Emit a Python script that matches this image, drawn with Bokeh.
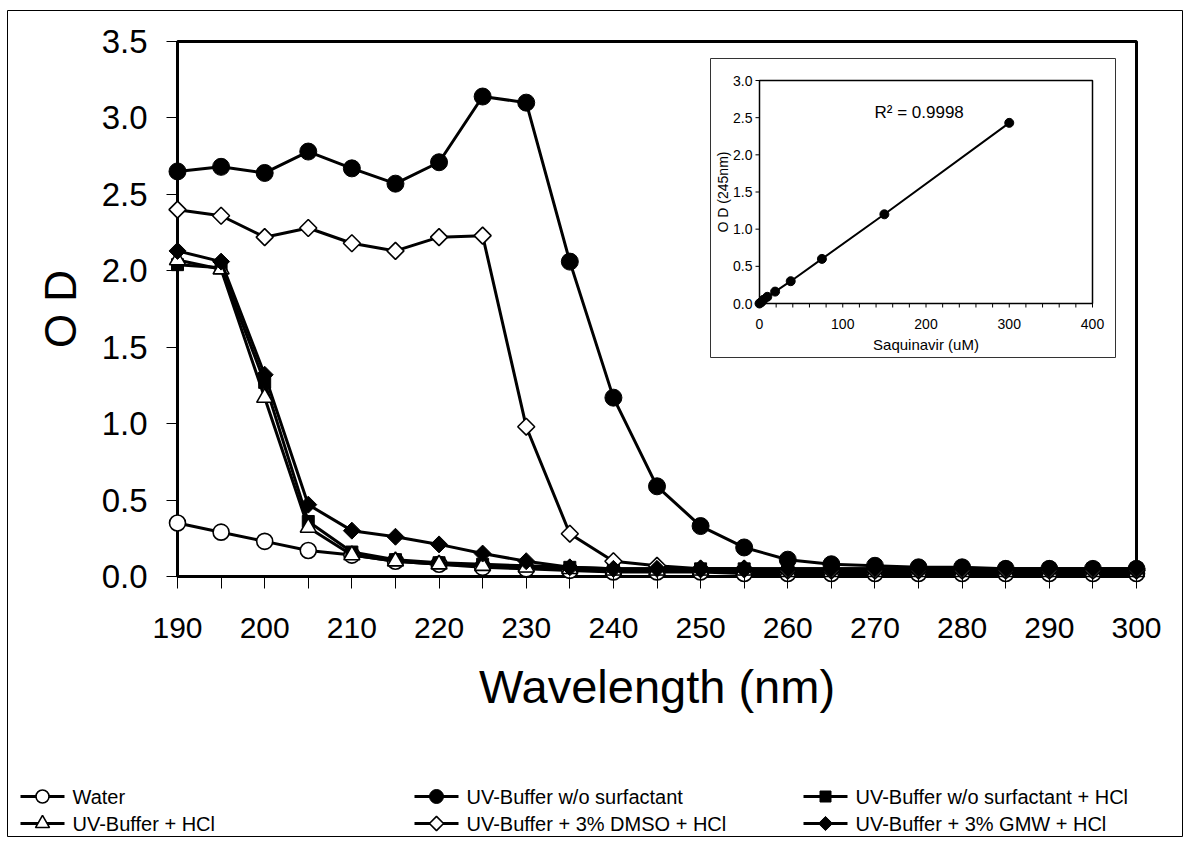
import math
from bokeh.plotting import figure
from bokeh.models import Range1d, FixedTicker, PrintfTickFormatter
from bokeh.core.properties import value
from bokeh.embed import file_html
from bokeh.resources import INLINE

# ---------------- data ----------------
wavelength = [190, 195, 200, 205, 210, 215, 220, 225, 230, 235, 240, 245,
              250, 255, 260, 265, 270, 275, 280, 285, 290, 295, 300]

od_water = [0.35, 0.29, 0.23, 0.17, 0.14, 0.10, 0.08, 0.06, 0.05, 0.04, 0.03, 0.03,
            0.03, 0.02, 0.02, 0.02, 0.02, 0.02, 0.02, 0.02, 0.02, 0.02, 0.02]
od_buffer_nosurf = [2.65, 2.68, 2.64, 2.78, 2.67, 2.57, 2.71, 3.14, 3.10, 2.06, 1.17, 0.59,
                    0.33, 0.19, 0.11, 0.08, 0.07, 0.06, 0.06, 0.05, 0.05, 0.05, 0.05]
od_buffer_nosurf_hcl = [2.04, 2.02, 1.27, 0.36, 0.16, 0.11, 0.09, 0.08, 0.07, 0.06, 0.05, 0.05,
                        0.05, 0.05, 0.05, 0.05, 0.05, 0.05, 0.05, 0.05, 0.05, 0.05, 0.05]
od_buffer_hcl = [2.07, 2.01, 1.17, 0.32, 0.14, 0.10, 0.08, 0.07, 0.06, 0.05, 0.04, 0.04,
                 0.04, 0.04, 0.03, 0.03, 0.03, 0.03, 0.03, 0.03, 0.03, 0.03, 0.03]
od_buffer_dmso_hcl = [2.40, 2.36, 2.22, 2.28, 2.18, 2.13, 2.22, 2.23, 0.98, 0.28, 0.10, 0.07,
                      0.05, 0.05, 0.04, 0.04, 0.04, 0.04, 0.04, 0.04, 0.04, 0.04, 0.04]
od_buffer_gmw_hcl = [2.13, 2.06, 1.32, 0.47, 0.30, 0.26, 0.21, 0.15, 0.10, 0.06, 0.05, 0.05,
                     0.05, 0.05, 0.05, 0.05, 0.05, 0.05, 0.05, 0.05, 0.05, 0.05, 0.05]

series_names = ["Water", "UV-Buffer w/o surfactant", "UV-Buffer w/o surfactant + HCl",
                "UV-Buffer + HCl", "UV-Buffer + 3% DMSO + HCl", "UV-Buffer + 3% GMW + HCl"]

x_major_ticks = [190, 200, 210, 220, 230, 240, 250, 260, 270, 280, 290, 300]
x_minor_ticks = [195, 205, 215, 225, 235, 245, 255, 265, 275, 285, 295]
y_ticks = [0.0, 0.5, 1.0, 1.5, 2.0, 2.5, 3.0, 3.5]
x_title = "Wavelength (nm)"
y_title = "O D"

inset_conc = [0.0, 2.34, 4.69, 9.38, 18.75, 37.5, 75.0, 150.0, 300.0]
inset_od = [0.0, 0.02, 0.05, 0.09, 0.16, 0.30, 0.60, 1.20, 2.43]
inset_x_ticks = [0, 100, 200, 300, 400]
inset_x_minor = [0, 20, 40, 60, 80, 100, 120, 140, 160, 180, 200, 220, 240, 260, 280,
                 300, 320, 340, 360, 380, 400]
inset_y_ticks = [0.0, 0.5, 1.0, 1.5, 2.0, 2.5, 3.0]
inset_r2 = "R\u00b2 = 0.9998"
inset_xlabel = "Saquinavir (uM)"
inset_ylabel = "O D (245nm)"

FONT = "Liberation Sans"

# ---------------- layout (canvas pixels) ----------------
W, H = 1184, 838
BOX_L, BOX_R, BOX_T, BOX_B = 177, 1136, 41, 576

X0, X1 = x_major_ticks[0], x_major_ticks[-1]
Y0, Y1 = y_ticks[0], y_ticks[-1]
xs = (BOX_R - BOX_L) / (X1 - X0)
ys = (BOX_B - BOX_T) / (Y1 - Y0)

p = figure(width=W, height=H, output_backend="svg", toolbar_location=None,
           x_range=Range1d(X0 - BOX_L / xs, X1 + (W - BOX_R) / xs),
           y_range=Range1d(Y0 - (H - BOX_B) / ys, Y1 + BOX_T / ys),
           min_border_left=0, min_border_right=0, min_border_top=0, min_border_bottom=0)
p.outline_line_color = None
p.grid.visible = False
p.background_fill_color = "white"
p.border_fill_color = "white"

# pixel ranges for decorations (legend, border, titles)
p.extra_x_ranges = {"px": Range1d(0, W)}
p.extra_y_ranges = {"py": Range1d(H, 0)}
pk = dict(x_range_name="px", y_range_name="py")

xa = p.xaxis[0]
xa.fixed_location = Y0
xa.ticker = FixedTicker(ticks=x_major_ticks, minor_ticks=x_minor_ticks)
xa.axis_line_color = None
xa.major_tick_in = 0
xa.major_tick_out = 12
xa.minor_tick_in = 0
xa.minor_tick_out = 12
xa.major_tick_line_color = "black"
xa.minor_tick_line_color = "black"
xa.major_label_text_font = FONT
xa.major_label_text_font_size = "30px"
xa.major_label_text_color = "black"
xa.major_label_standoff = 29

ya = p.yaxis[0]
ya.fixed_location = X0
ya.ticker = FixedTicker(ticks=y_ticks, minor_ticks=[])
ya.formatter = PrintfTickFormatter(format="%.1f")
ya.axis_line_color = None
ya.major_tick_in = 0
ya.major_tick_out = 11
ya.minor_tick_in = 0
ya.minor_tick_out = 0
ya.major_tick_line_color = "black"
ya.major_label_text_font = FONT
ya.major_label_text_font_size = "33px"
ya.major_label_text_color = "black"
ya.major_label_standoff = 19

# axis titles
p.text(x=[(BOX_L + BOX_R) / 2], y=[686], text=[x_title], text_align="center",
       text_baseline="middle", text_font=value(FONT), text_font_size=value("47px"),
       text_color="black", **pk)
p.text(x=[60], y=[(BOX_T + BOX_B) / 2], text=[y_title], angle=math.pi / 2,
       text_align="center", text_baseline="middle", text_font=value(FONT),
       text_font_size=value("44px"), text_color="black", **pk)

# outer border of the whole chart
p.quad(left=[7], right=[1182], top=[10], bottom=[836], fill_color=None,
       line_color="black", line_width=1, **pk)

# plot-area box (axes lines + frame)
p.quad(left=[X0], right=[X1], bottom=[Y0], top=[Y1], fill_color=None,
       line_color="black", line_width=3)

series = [
    (od_water, "circle", 16, "white", 0.0, 1.6),
    (od_buffer_nosurf, "circle", 17, "black", 0.0, 1.0),
    (od_buffer_nosurf_hcl, "square", 12, "black", 0.0, 1.0),
    (od_buffer_hcl, "triangle", 16, "white", 0.0, 1.6),
    (od_buffer_dmso_hcl, "square", 12, "white", math.pi / 4, 1.6),
    (od_buffer_gmw_hcl, "square", 12, "black", math.pi / 4, 1.0),
]
for vals, mk, sz, fill, ang, lw in series:
    p.line(wavelength, vals, line_color="black", line_width=3)
    p.scatter(wavelength, vals, marker=mk, size=sz, fill_color=fill,
              line_color="black", line_width=lw, angle=ang)

# ---------------- inset ----------------
INS_L, INS_R, INS_T, INS_B = 759, 1092, 80, 303
IX0, IX1 = inset_x_ticks[0], inset_x_ticks[-1]
IY0, IY1 = inset_y_ticks[0], inset_y_ticks[-1]
isx = (INS_R - INS_L) / (IX1 - IX0)
isy = (INS_B - INS_T) / (IY1 - IY0)
p.extra_x_ranges["ix"] = Range1d(IX0 - INS_L / isx, IX1 + (W - INS_R) / isx)
p.extra_y_ranges["iy"] = Range1d(IY0 - (H - INS_B) / isy, IY1 + INS_T / isy)
kw = dict(x_range_name="ix", y_range_name="iy")


def ixd(px):
    return IX0 + (px - INS_L) / isx


def iyd(px):
    return IY0 + (INS_B - px) / isy


CA_L, CA_R, CA_T, CA_B = 710, 1115, 58, 357
p.quad(left=[ixd(CA_L)], right=[ixd(CA_R)], top=[iyd(CA_T)], bottom=[iyd(CA_B)],
       fill_color="white", line_color="#333333", line_width=1, **kw)
p.quad(left=[IX0], right=[IX1], bottom=[IY0], top=[IY1], fill_color="white",
       line_color="black", line_width=1.5, **kw)

ny = len(inset_y_ticks)
p.segment(x0=[ixd(INS_L - 4)] * ny, x1=[IX0] * ny, y0=inset_y_ticks, y1=inset_y_ticks,
          line_color="black", line_width=1, **kw)
p.text(x=[ixd(INS_L - 7)] * ny, y=inset_y_ticks, text=["%.1f" % v for v in inset_y_ticks],
       text_align="right", text_baseline="middle", text_font=value(FONT),
       text_font_size=value("14px"), text_color="black", **kw)

nx = len(inset_x_minor)
p.segment(x0=inset_x_minor, x1=inset_x_minor, y0=[iyd(INS_B + 4)] * nx, y1=[IY0] * nx,
          line_color="black", line_width=1, **kw)
p.text(x=inset_x_ticks, y=[iyd(INS_B + 20)] * len(inset_x_ticks),
       text=[str(v) for v in inset_x_ticks], text_align="center", text_baseline="middle",
       text_font=value(FONT), text_font_size=value("14px"), text_color="black", **kw)
p.text(x=[(IX0 + IX1) / 2], y=[iyd(INS_B + 41)], text=[inset_xlabel], text_align="center",
       text_baseline="middle", text_font=value(FONT), text_font_size=value("15px"),
       text_color="black", **kw)
p.text(x=[ixd(722)], y=[(IY0 + IY1) / 2], text=[inset_ylabel], angle=math.pi / 2,
       text_align="center", text_baseline="middle", text_font=value(FONT),
       text_font_size=value("14px"), text_color="black", **kw)

p.line(inset_conc, inset_od, line_color="black", line_width=2, **kw)
p.scatter(inset_conc, inset_od, marker="circle", size=9, fill_color="black",
          line_color="black", **kw)
p.text(x=[ixd(874)], y=[iyd(112)], text=[inset_r2], text_baseline="middle",
       text_font=value(FONT), text_font_size=value("17px"), text_color="black", **kw)

# ---------------- legend (drawn in canvas pixels) ----------------
COL_X = [20, 414, 803]
ROW_Y = [796, 823]
GLYPH_W = 44
lx = [COL_X[i % 3] for i in range(len(series_names))]
ly = [ROW_Y[i // 3] for i in range(len(series_names))]
p.segment(x0=lx, x1=[x + GLYPH_W for x in lx], y0=ly, y1=ly, line_color="black",
          line_width=3, **pk)
leg_sizes = [13, 14, 11, 14, 10, 10]
for i, (vals, mk, sz, fill, ang, lw) in enumerate(series):
    p.scatter([lx[i] + GLYPH_W / 2], [ly[i]], marker=mk, size=leg_sizes[i], fill_color=fill,
              line_color="black", line_width=lw, angle=ang, **pk)
p.text(x=[x + GLYPH_W + 8 for x in lx], y=ly, text=series_names, text_baseline="middle",
       text_font=value(FONT), text_font_size=value("20px"), text_color="black", **pk)

with open("out.html", "w") as f:
    f.write(file_html(p, INLINE))
